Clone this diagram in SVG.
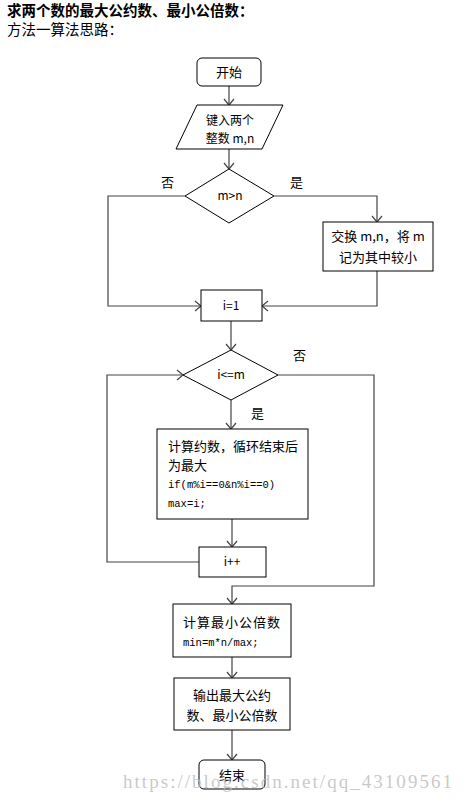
<svg xmlns="http://www.w3.org/2000/svg" width="464" height="801" viewBox="0 0 464 801">
<style>
.shape{fill:#fff;stroke:#000;stroke-width:1}
.conn{fill:none;stroke:#444;stroke-width:1.2}
.t{font-family:"Noto Sans CJK SC","Liberation Sans",sans-serif;font-size:12px;fill:#000}
.b{font-size:13px}
.m{font-family:"Liberation Mono","Noto Sans CJK SC",monospace;font-size:10.5px;fill:#000}
.c{text-anchor:middle}
.title{font-family:"Noto Sans CJK SC","Liberation Sans",sans-serif;font-size:14.5px;fill:#000}
</style>
<defs>
<marker id="arr" markerWidth="12" markerHeight="12" refX="10" refY="6" orient="auto" markerUnits="userSpaceOnUse">
<path d="M4,1 L10,6 L4,11" fill="none" stroke="#444" stroke-width="1.2"/>
</marker>
</defs>
<rect width="464" height="801" fill="#fff"/>
<text class="title" x="7" y="16" font-weight="bold">求两个数的最大公约数、最小公倍数：</text>
<text class="title" x="7" y="35">方法一算法思路：</text>

<g id="connectors">
<line class="conn" x1="229" y1="86" x2="229" y2="105" marker-end="url(#arr)"/>
<line class="conn" x1="229" y1="149" x2="229" y2="169" marker-end="url(#arr)"/>
<polyline class="conn" points="185,196 108,196 108,306 201,306" marker-end="url(#arr)"/>
<polyline class="conn" points="274,196 377,196 377,222" marker-end="url(#arr)"/>
<polyline class="conn" points="377,271 377,306 262,306" marker-end="url(#arr)"/>
<line class="conn" x1="231" y1="321" x2="231" y2="350" marker-end="url(#arr)"/>
<line class="conn" x1="231" y1="400" x2="231" y2="429" marker-end="url(#arr)"/>
<line class="conn" x1="232" y1="519" x2="232" y2="547" marker-end="url(#arr)"/>
<polyline class="conn" points="199,562 107,562 107,375 183,375" marker-end="url(#arr)"/>
<polyline class="conn" points="278,375 374,375 374,586 232,586 232,604" marker-end="url(#arr)"/>
<line class="conn" x1="232" y1="657" x2="232" y2="678" marker-end="url(#arr)"/>
<line class="conn" x1="232" y1="730" x2="232" y2="760" marker-end="url(#arr)"/>
<text class="t b" x="161" y="187">否</text>
<text class="t b" x="290" y="187">是</text>
<text class="t b" x="293" y="360">否</text>
<text class="t b" x="251" y="418">是</text>
</g>

<g id="start">
<rect class="shape" x="197" y="58" width="64" height="28" rx="5"/>
<text class="t b c" x="229" y="77">开始</text>
</g>
<g id="input">
<polygon class="shape" points="197,105 283,105 262,149 176,149"/>
<text class="t c" x="230" y="125" font-size="10">键入两个</text>
<text class="t c" x="230" y="143" font-size="10">整数 m,n</text>
</g>
<g id="cmp">
<polygon class="shape" points="229,169 274,196 229,223 185,196"/>
<text class="t c" x="230" y="200" font-size="11">m&gt;n</text>
</g>
<g id="swap">
<rect class="shape" x="323" y="222" width="110" height="49"/>
<text class="t b c" x="378" y="241">交换 m,n，将 m</text>
<text class="t b c" x="378" y="262">记为其中较小</text>
</g>
<g id="init">
<rect class="shape" x="201" y="290" width="61" height="31"/>
<text class="t c" x="231" y="310" font-size="11">i=1</text>
</g>
<g id="loop">
<polygon class="shape" points="231,350 278,375 231,400 183,375"/>
<text class="t c" x="231" y="379" font-size="11">i&lt;=m</text>
</g>
<g id="gcd">
<rect class="shape" x="157" y="429" width="151" height="90"/>
<text class="t b" x="168" y="451">计算约数，循环结束后</text>
<text class="t b" x="168" y="470">为最大</text>
<text class="m" x="168" y="488">if(m%i==0&amp;n%i==0)</text>
<text class="m" x="168" y="507">max=i;</text>
</g>
<g id="inc">
<rect class="shape" x="199" y="547" width="67" height="30"/>
<text class="t c" x="232" y="566" font-size="11">i++</text>
</g>
<g id="lcm">
<rect class="shape" x="173" y="604" width="118" height="53"/>
<text class="t b" x="183" y="627" letter-spacing="1">计算最小公倍数</text>
<text class="m" x="183" y="646">min=m*n/max;</text>
</g>
<g id="output">
<rect class="shape" x="174" y="678" width="116" height="52"/>
<text class="t b c" x="232" y="700">输出最大公约</text>
<text class="t b c" x="232" y="720">数、最小公倍数</text>
</g>
<g id="end">
<rect class="shape" x="199" y="760" width="66" height="29" rx="5"/>
<text class="t b c" x="232" y="780">结束</text>
</g>
<text x="123" y="788" font-family="Liberation Serif,serif" font-size="19" fill="#bbb" fill-opacity="0.8" textLength="329">https://blog.csdn.net/qq_43109561</text>
</svg>
